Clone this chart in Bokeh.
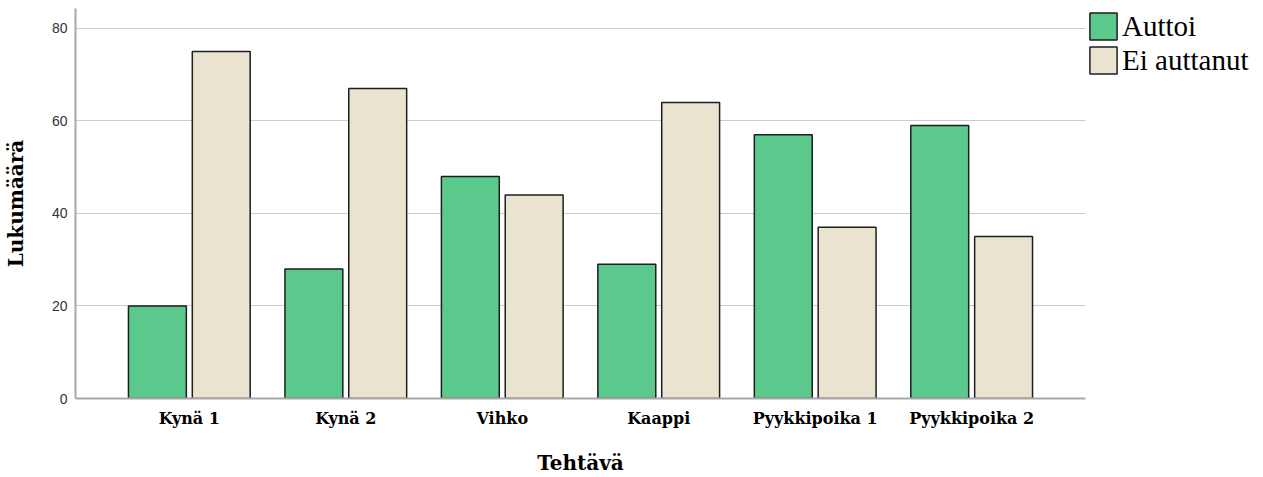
from bokeh.plotting import figure
from bokeh.models import ColumnDataSource, FactorRange, Range1d, Legend, LegendItem, FixedTicker
from bokeh.transform import dodge
from bokeh.embed import file_html
from bokeh.resources import INLINE

categories = ["Kynä 1", "Kynä 2", "Vihko", "Kaappi", "Pyykkipoika 1", "Pyykkipoika 2"]
auttoi = [20, 28, 48, 29, 57, 59]
ei_auttanut = [75, 67, 44, 64, 37, 35]
series_names = ["Auttoi", "Ei auttanut"]
y_ticks = [0, 20, 40, 60, 80]

src = ColumnDataSource(dict(cat=categories, a=auttoi, e=ei_auttanut))

p = figure(frame_width=1010, frame_height=390, output_backend="svg", toolbar_location=None,
           x_range=FactorRange(factors=categories, range_padding=0.2275, range_padding_units="absolute"),
           y_range=Range1d(0, 84.3),
           min_border_left=70, min_border_right=4, min_border_top=8, min_border_bottom=6)
p.outline_line_color = None
p.background_fill_color = "white"

green = "#5bc98b"
beige = "#e9e3cf"
edge = "#1e1e1e"
r1 = p.vbar(x=dodge("cat", -0.204, range=p.x_range), top="a", width=0.37, source=src,
            fill_color=green, line_color=edge, line_width=1.5)
r2 = p.vbar(x=dodge("cat", 0.204, range=p.x_range), top="e", width=0.37, source=src,
            fill_color=beige, line_color=edge, line_width=1.5)

p.xgrid.grid_line_color = None
p.ygrid.grid_line_color = "#cccccc"
p.ygrid.grid_line_width = 1.2
p.yaxis.ticker = FixedTicker(ticks=y_ticks)

for ax in (p.xaxis[0], p.yaxis[0]):
    ax.axis_line_color = "#a8a8a8"
    ax.axis_line_width = 2
    ax.major_tick_line_color = None
    ax.minor_tick_line_color = None
    ax.major_tick_out = 0
    ax.minor_tick_out = 0
    ax.axis_label_text_font = "DejaVu Serif"
    ax.axis_label_text_font_style = "bold"
    ax.axis_label_text_font_size = "20px"
    ax.axis_label_text_color = "black"

p.yaxis.axis_label = "Lukumäärä"
p.yaxis.major_label_text_font = "Liberation Sans"
p.yaxis.major_label_text_font_size = "14px"
p.yaxis.major_label_text_color = "#333333"
p.yaxis.major_label_standoff = 8
p.yaxis.axis_label_standoff = 21

p.xaxis.axis_label = "Tehtävä"
p.xaxis.major_label_text_font = "DejaVu Serif"
p.xaxis.major_label_text_font_style = "bold"
p.xaxis.major_label_text_font_size = "16px"
p.xaxis.major_label_text_color = "black"
p.xaxis.major_label_standoff = 10
p.xaxis.axis_label_standoff = 20

legend = Legend(items=[LegendItem(label=series_names[0], renderers=[r1]),
                       LegendItem(label=series_names[1], renderers=[r2])],
                location="top_left", border_line_color=None, background_fill_alpha=0,
                glyph_width=34, glyph_height=34, label_height=34, spacing=0, padding=0, margin=1,
                label_standoff=2, label_text_font="Liberation Serif",
                label_text_font_size="29px", label_text_color="black")
p.add_layout(legend, "right")

open("out.html", "w").write(file_html(p, INLINE))
